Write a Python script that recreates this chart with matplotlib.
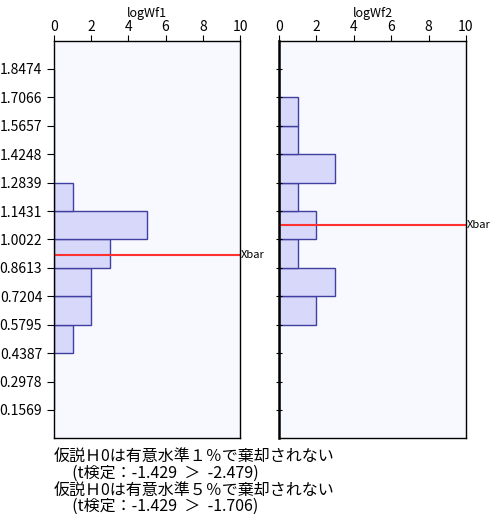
import numpy as np
import matplotlib
matplotlib.use("Agg")
import matplotlib.pyplot as plt

plt.rcParams['font.family'] = ['Noto Sans CJK JP', 'DejaVu Sans']

# bin edges (also y tick labels)
edges = [0.1569, 0.2978, 0.4387, 0.5795, 0.7204, 0.8613, 1.0022,
         1.1431, 1.2839, 1.4248, 1.5657, 1.7066, 1.8474]
counts1 = [0, 0, 1, 2, 2, 3, 5, 1, 0, 0, 0, 0]
counts2 = [0, 0, 0, 2, 3, 1, 2, 1, 3, 1, 1, 0]
xbar1 = 0.9275
xbar2 = 1.072
titles = ["logWf1", "logWf2"]
notes = [
    "仮説Ｈ0は有意水準１％で棄却されない",
    "     (t検定：-1.429  ＞  -2.479)",
    "仮説Ｈ0は有意水準５％で棄却されない",
    "     (t検定：-1.429  ＞  -1.706)",
]

fig = plt.figure(figsize=(4.92, 5.16), dpi=100)
ax1 = fig.add_axes([54 / 492, 78 / 516, 186 / 492, 397 / 516])
ax2 = fig.add_axes([279 / 492, 78 / 516, 187 / 492, 397 / 516])

heights = np.diff(edges)
for i, (ax, counts, xbar, title) in enumerate(zip([ax1, ax2], [counts1, counts2],
                                                  [xbar1, xbar2], titles)):
    ax.set_facecolor("#f8f8ff")
    ax.barh(edges[:-1], counts, height=heights, align='edge',
            color="#d8d8fa", edgecolor="#4040a0", linewidth=1.0)
    ax.axhline(xbar, color="#ff3030", linewidth=1.5)
    ax.text(10.05, xbar, "Xbar", va='center', ha='left', fontsize=8)
    ax.set_xlim(0, 10)
    ax.set_ylim(0.018, 1.986)
    ax.xaxis.tick_top()
    ax.set_xticks([0, 2, 4, 6, 8, 10])
    ax.set_yticks(edges)
    ax.tick_params(axis='x', labelsize=10, length=4, pad=1)
    ax.set_title(title, fontsize=9, pad=1)
    for s in ax.spines.values():
        s.set_linewidth(1.0)
    if i == 0:
        ax.set_yticklabels([f"{e:.4f}" for e in edges])
        ax.tick_params(axis='y', labelsize=10, length=5, direction='out')
    else:
        ax.set_yticklabels([])
        ax.tick_params(axis='y', length=5, direction='inout')
        ax.spines['left'].set_linewidth(1.8)

ys = [456, 473, 490, 506]
for t, y in zip(notes, ys):
    fig.text(54 / 492, 1 - y / 516, t, fontsize=11.5, va='center', ha='left')

fig.savefig("out.png", dpi=100)
